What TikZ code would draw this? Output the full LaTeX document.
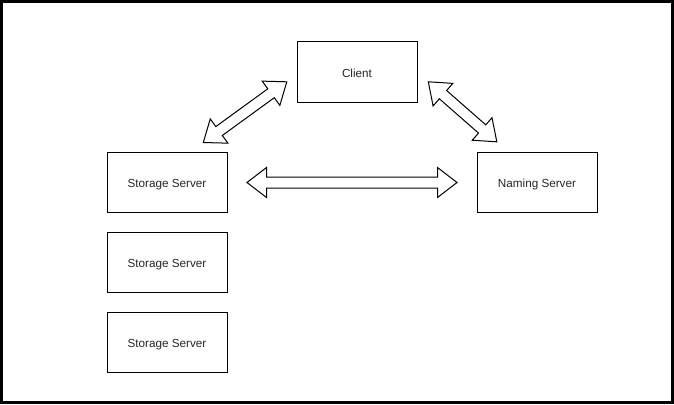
\documentclass[tikz,border=0pt]{standalone}
\usepackage{fontspec}
\setmainfont{Liberation Sans}
\usetikzlibrary{calc}
\tikzset{
  box/.style={draw=black, line width=1pt, fill=white, minimum width=120pt, minimum height=60pt, inner sep=0pt, font=\fontsize{11.7pt}{14pt}\selectfont, text=black!85, text height=11pt, text depth=0pt},
  flexarrow/.style={draw=black, line width=1pt, fill=white, line join=miter},
  frame/.style={draw=black, line width=3pt}
}
\newcommand{\dblflex}[2]{%
  \draw[flexarrow] (#1)
    -- ($(#1)!19.5pt!(#2)!15pt!90:(#2)$)
    -- ($(#1)!19.5pt!(#2)!5.5pt!90:(#2)$)
    -- ($(#2)!19.5pt!(#1)!5.5pt!-90:(#1)$)
    -- ($(#2)!19.5pt!(#1)!15pt!-90:(#1)$)
    -- (#2)
    -- ($(#2)!19.5pt!(#1)!15pt!90:(#1)$)
    -- ($(#2)!19.5pt!(#1)!5.5pt!90:(#1)$)
    -- ($(#1)!19.5pt!(#2)!5.5pt!-90:(#2)$)
    -- ($(#1)!19.5pt!(#2)!15pt!-90:(#2)$)
    -- cycle;}
\begin{document}
\begin{tikzpicture}[x=1pt,y=-1pt]
  \useasboundingbox (0,0) rectangle (674,404);
  \fill[white] (0,0) rectangle (674,404);
  \draw[frame] (1.5,1.5) rectangle (672.5,402.5);

  \node[box] (client) at (357,72) {Client};
  \node[box] (ss1) at (167,182) {Storage Server};
  \node[box] (ss2) at (167,262) {Storage Server};
  \node[box] (ss3) at (167,342) {Storage Server};
  \node[box] (ns) at (537,182) {Naming Server};

  \coordinate (a1s) at (203.3,142.5);
  \coordinate (a1e) at (286.8,81.8);
  \coordinate (a2s) at (428.3,81.8);
  \coordinate (a2e) at (496.8,141.8);
  \coordinate (a3s) at (247,182.5);
  \coordinate (a3e) at (457,182.5);

  \dblflex{a1s}{a1e}
  \dblflex{a2s}{a2e}
  \dblflex{a3s}{a3e}
\end{tikzpicture}
\end{document}
